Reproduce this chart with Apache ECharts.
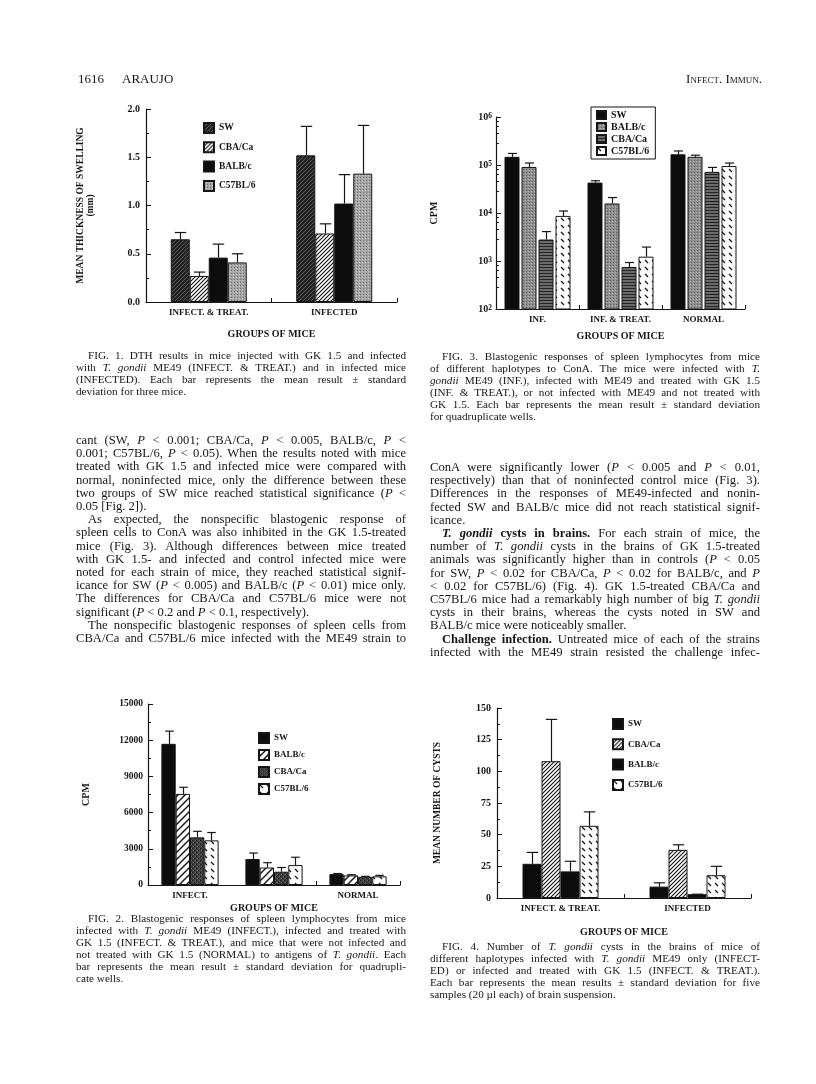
<!DOCTYPE html>
<html>
<head>
<meta charset="utf-8">
<script src="https://cdn.jsdelivr.net/npm/echarts@6/dist/echarts.min.js"></script>
<style>
  html, body { margin: 0; padding: 0; background: #fff; }
  #page { position: relative; width: 816px; height: 1084px; overflow: hidden;
          font-family: 'Liberation Serif', 'Times New Roman', serif; color: #151515; }
  .chart { position: absolute; left: 0; top: 0; width: 816px; height: 1084px; }
  .blk { position: absolute; width: 330px; }
  .blk div { white-space: nowrap; text-align: justify; text-align-last: justify; }
  .blk div.end { text-align-last: left; }
  .blk div.ind { padding-left: 12px; }
  .body { font-size: 12.6px; line-height: 13.2px; }
  .cap { font-size: 11.2px; line-height: 11.9px; }
  .hdr { position: absolute; font-size: 13px; top: 71px; }
</style>
</head>
<body>
<div id="page">
  <div class="chart" id="c1"></div>
  <div class="chart" id="c2"></div>
  <div class="chart" id="c3"></div>
  <div class="chart" id="c4"></div>

  <div class="hdr" style="left:78px">1616</div>
  <div class="hdr" style="left:122px">ARAUJO</div>
  <div class="hdr" style="left:430px;width:332px;text-align:right;font-variant:small-caps">Infect. Immun.</div>

  <div class="blk cap" style="left:76px;top:350px">
    <div class="ind">FIG. 1. DTH results in mice injected with GK 1.5 and infected</div>
    <div>with <i>T. gondii</i> ME49 (INFECT. &amp; TREAT.) and in infected mice</div>
    <div>(INFECTED). Each bar represents the mean result ± standard</div>
    <div class="end">deviation for three mice.</div>
  </div>

  <div class="blk cap" style="left:430px;top:351px">
    <div class="ind">FIG. 3. Blastogenic responses of spleen lymphocytes from mice</div>
    <div>of different haplotypes to ConA. The mice were infected with <i>T.</i></div>
    <div><i>gondii</i> ME49 (INF.), infected with ME49 and treated with GK 1.5</div>
    <div>(INF. &amp; TREAT.), or not infected with ME49 and not treated with</div>
    <div>GK 1.5. Each bar represents the mean result ± standard deviation</div>
    <div class="end">for quadruplicate wells.</div>
  </div>

  <div class="blk body" style="left:76px;top:434px">
    <div>cant (SW, <i>P</i> &lt; 0.001; CBA/Ca, <i>P</i> &lt; 0.005, BALB/c, <i>P</i> &lt;</div>
    <div>0.001; C57BL/6, <i>P</i> &lt; 0.05). When the results noted with mice</div>
    <div>treated with GK 1.5 and infected mice were compared with</div>
    <div>normal, noninfected mice, only the difference between these</div>
    <div>two groups of SW mice reached statistical significance (<i>P</i> &lt;</div>
    <div class="end">0.05 [Fig. 2]).</div>
    <div class="ind">As expected, the nonspecific blastogenic response of</div>
    <div>spleen cells to ConA was also inhibited in the GK 1.5-treated</div>
    <div>mice (Fig. 3). Although differences between mice treated</div>
    <div>with GK 1.5- and infected and control infected mice were</div>
    <div>noted for each strain of mice, they reached statistical signif-</div>
    <div>icance for SW (<i>P</i> &lt; 0.005) and BALB/c (<i>P</i> &lt; 0.01) mice only.</div>
    <div>The differences for CBA/Ca and C57BL/6 mice were not</div>
    <div class="end">significant (<i>P</i> &lt; 0.2 and <i>P</i> &lt; 0.1, respectively).</div>
    <div class="ind">The nonspecific blastogenic responses of spleen cells from</div>
    <div>CBA/Ca and C57BL/6 mice infected with the ME49 strain to</div>
  </div>

  <div class="blk body" style="left:430px;top:461px">
    <div>ConA were significantly lower (<i>P</i> &lt; 0.005 and <i>P</i> &lt; 0.01,</div>
    <div>respectively) than that of noninfected control mice (Fig. 3).</div>
    <div>Differences in the responses of ME49-infected and nonin-</div>
    <div>fected SW and BALB/c mice did not reach statistical signif-</div>
    <div class="end">icance.</div>
    <div class="ind"><b><i>T. gondii</i> cysts in brains.</b> For each strain of mice, the</div>
    <div>number of <i>T. gondii</i> cysts in the brains of GK 1.5-treated</div>
    <div>animals was significantly higher than in controls (<i>P</i> &lt; 0.05</div>
    <div>for SW, <i>P</i> &lt; 0.02 for CBA/Ca, <i>P</i> &lt; 0.02 for BALB/c, and <i>P</i></div>
    <div>&lt; 0.02 for C57BL/6) (Fig. 4). GK 1.5-treated CBA/Ca and</div>
    <div>C57BL/6 mice had a remarkably high number of big <i>T. gondii</i></div>
    <div>cysts in their brains, whereas the cysts noted in SW and</div>
    <div class="end">BALB/c mice were noticeably smaller.</div>
    <div class="ind"><b>Challenge infection.</b> Untreated mice of each of the strains</div>
    <div>infected with the ME49 strain resisted the challenge infec-</div>
  </div>

  <div class="blk cap" style="left:76px;top:913px">
    <div class="ind">FIG. 2. Blastogenic responses of spleen lymphocytes from mice</div>
    <div>infected with <i>T. gondii</i> ME49 (INFECT.), infected and treated with</div>
    <div>GK 1.5 (INFECT. &amp; TREAT.), and mice that were not infected and</div>
    <div>not treated with GK 1.5 (NORMAL) to antigens of <i>T. gondii</i>. Each</div>
    <div>bar represents the mean result ± standard deviation for quadrupli-</div>
    <div class="end">cate wells.</div>
  </div>

  <div class="blk cap" style="left:430px;top:941px">
    <div class="ind">FIG. 4. Number of <i>T. gondii</i> cysts in the brains of mice of</div>
    <div>different haplotypes infected with <i>T. gondii</i> ME49 only (INFECT-</div>
    <div>ED) or infected and treated with GK 1.5 (INFECT. &amp; TREAT.).</div>
    <div>Each bar represents the mean results ± standard deviation for five</div>
    <div class="end">samples (20 µl each) of brain suspension.</div>
  </div>
</div>

<script>
// ---- Fig. 1: DTH, mean thickness of swelling (mm) ----
const fig1Groups = ['INFECT. & TREAT.', 'INFECTED'];
const fig1Strains = ['SW', 'CBA/Ca', 'BALB/c', 'C57BL/6'];
const fig1SW = [0.65, 1.52];
const fig1SWsd = [0.07, 0.30];
const fig1CBA = [0.27, 0.71];
const fig1CBAsd = [0.04, 0.10];
const fig1BALB = [0.46, 1.02];
const fig1BALBsd = [0.14, 0.30];
const fig1C57 = [0.41, 1.33];
const fig1C57sd = [0.09, 0.50];

// ---- Fig. 2: blastogenic response to T. gondii antigens (CPM) ----
const fig2Groups = ['INFECT.', 'INFECT. & TREAT.', 'NORMAL'];
const fig2Strains = ['SW', 'BALB/c', 'CBA/Ca', 'C57BL/6'];
const fig2SW = [11700, 2150, 900];
const fig2SWsd = [1050, 500, 50];
const fig2BALB = [7550, 1450, 800];
const fig2BALBsd = [550, 400, 50];
const fig2CBA = [3950, 1100, 680];
const fig2CBAsd = [500, 350, 40];
const fig2C57 = [3700, 1650, 720];
const fig2C57sd = [650, 650, 80];

// ---- Fig. 3: response to ConA (CPM, log scale) ----
const fig3Groups = ['INF.', 'INF. & TREAT.', 'NORMAL'];
const fig3Strains = ['SW', 'BALB/c', 'CBA/Ca', 'C57BL/6'];
const fig3SW = [148000, 43000, 167000];
const fig3SWsd = [26000, 4000, 29000];
const fig3BALB = [91000, 15800, 148000];
const fig3BALBsd = [19000, 5200, 12000];
const fig3CBA = [2800, 750, 72000];
const fig3CBAsd = [1300, 180, 17000];
const fig3C57 = [8700, 1230, 95000];
const fig3C57sd = [2300, 720, 15000];

// ---- Fig. 4: mean number of cysts ----
const fig4Groups = ['INFECT. & TREAT.', 'INFECTED'];
const fig4Strains = ['SW', 'CBA/Ca', 'BALB/c', 'C57BL/6'];
const fig4SW = [27, 9];
const fig4SWsd = [9, 3];
const fig4CBA = [108, 38];
const fig4CBAsd = [33, 4];
const fig4BALB = [21, 3];
const fig4BALBsd = [8, 0];
const fig4C57 = [57, 18];
const fig4C57sd = [11, 7];

const serif = 'Liberation Serif';
const ink = '#151515';

// small canvas tiles used as bar fills (scanned hatchings)
function tile(size, bg, draw) {
  const c = document.createElement('canvas');
  c.width = size; c.height = size;
  const g = c.getContext('2d');
  g.fillStyle = bg;
  g.fillRect(0, 0, size, size);
  draw(g, size);
  return { image: c, repeat: 'repeat' };
}
function diag(g, s, col, w) {
  g.strokeStyle = col; g.lineWidth = w;
  g.beginPath();
  g.moveTo(0, s); g.lineTo(s, 0);
  g.moveTo(-1, 1); g.lineTo(1, -1);
  g.moveTo(s - 1, s + 1); g.lineTo(s + 1, s - 1);
  g.stroke();
}
const patDarkHatch = tile(4, '#222', (g, s) => diag(g, s, '#5a5a5a', 1));
const patFineHatch = tile(4, '#fff', (g, s) => diag(g, s, '#111', 1.1));
const patWideHatch = tile(7, '#fff', (g, s) => diag(g, s, '#111', 1.4));
const patGrayStipple = tile(3, '#a4a4a4', (g) => {
  g.fillStyle = '#6e6e6e'; g.fillRect(0, 0, 1, 1);
  g.fillStyle = '#cfcfcf'; g.fillRect(2, 1, 1, 1);
});
const patMidGray = tile(3, '#8e8e8e', (g) => {
  g.fillStyle = '#5c5c5c'; g.fillRect(1, 1, 1, 1);
  g.fillStyle = '#b8b8b8'; g.fillRect(0, 2, 1, 1);
});
const patDarkMottle = tile(4, '#3e3e3e', (g) => {
  g.fillStyle = '#1a1a1a'; g.fillRect(0, 0, 1, 1); g.fillRect(2, 2, 1, 1);
  g.fillStyle = '#707070'; g.fillRect(1, 2, 1, 1); g.fillRect(3, 0, 1, 1);
});
const patHLines = tile(3, '#6a6a6a', (g) => {
  g.fillStyle = '#262626'; g.fillRect(0, 0, 3, 1);
});
const patDash = tile(7, '#fff', (g) => {
  g.strokeStyle = '#111'; g.lineWidth = 1.2;
  g.beginPath(); g.moveTo(1, 1); g.lineTo(4, 4); g.stroke();
});

function txt(size, extra) {
  return Object.assign({ fontFamily: serif, fontWeight: 'bold', fontSize: size, color: ink }, extra || {});
}

function bar(name, data, color, bw, gap) {
  return {
    type: 'bar', name: name, data: data, barWidth: bw, barGap: gap,
    itemStyle: { color: color, borderColor: ink, borderWidth: 1 },
    emphasis: { disabled: true }
  };
}

// one-sided (mean + SD) error bar drawn at the centre of bar number idx
function errBar(means, sds, idx, n, bw, gapPx) {
  return {
    type: 'custom', z: 5, silent: true,
    data: means.map((m, i) => [i, m, m + sds[i]]),
    encode: { x: 0, y: [1, 2] },
    renderItem: function (params, api) {
      const off = (idx - (n - 1) / 2) * (bw + gapPx);
      const a = api.coord([api.value(0), api.value(1)]);
      const b = api.coord([api.value(0), api.value(2)]);
      const x = Math.round(a[0] + off) + 0.5;
      const cap = Math.max(3, bw * 0.3);
      const st = { stroke: ink, lineWidth: 1.2 };
      return {
        type: 'group', children: [
          { type: 'line', shape: { x1: x, y1: a[1], x2: x, y2: b[1] }, style: st },
          { type: 'line', shape: { x1: x - cap, y1: b[1], x2: x + cap, y2: b[1] }, style: st }
        ]
      };
    }
  };
}

function catAxis(groups, nameGap, labelSize) {
  return {
    type: 'category', data: groups,
    axisLine: { lineStyle: { color: ink, width: 1.2 } },
    axisTick: { show: true, inside: true, length: 4, lineStyle: { color: ink } },
    axisLabel: txt(labelSize, { margin: 6 }),
    name: 'GROUPS OF MICE', nameLocation: 'middle', nameGap: nameGap,
    nameTextStyle: txt(10)
  };
}

function valAxis(extra) {
  return Object.assign({
    type: 'value',
    axisLine: { show: true, lineStyle: { color: ink, width: 1.2 } },
    axisTick: { show: true, inside: true, length: 5, lineStyle: { color: ink } },
    minorTick: { show: true, splitNumber: 2, length: 3, lineStyle: { color: ink } },
    splitLine: { show: false },
    nameLocation: 'middle', nameRotate: 90
  }, extra);
}

// ---------- Fig. 1 ----------
const chart1 = echarts.init(document.getElementById('c1'));
const bw1 = 19;
chart1.setOption({
  animation: false,
  grid: { left: 146, top: 109, width: 251, height: 193 },
  legend: {
    data: fig1Strains, orient: 'vertical', left: 198, top: 117, icon: 'rect',
    itemWidth: 10, itemHeight: 10, itemGap: 7.3, textStyle: txt(9.5)
  },
  xAxis: catAxis(fig1Groups, 27, 9),
  yAxis: valAxis({
    min: 0, max: 2, interval: 0.5,
    axisLabel: txt(10, { margin: 6, formatter: v => v.toFixed(1) }),
    name: 'MEAN THICKNESS OF SWELLING\n(mm)', nameGap: 50,
    nameTextStyle: txt(9.5, { lineHeight: 10 })
  }),
  series: [
    bar('SW', fig1SW, patDarkHatch, bw1, '0%'),
    bar('CBA/Ca', fig1CBA, patFineHatch, bw1, '0%'),
    bar('BALB/c', fig1BALB, '#0c0c0c', bw1, '0%'),
    bar('C57BL/6', fig1C57, patGrayStipple, bw1, '0%'),
    errBar(fig1SW, fig1SWsd, 0, 4, bw1, 0),
    errBar(fig1CBA, fig1CBAsd, 1, 4, bw1, 0),
    errBar(fig1BALB, fig1BALBsd, 2, 4, bw1, 0),
    errBar(fig1C57, fig1C57sd, 3, 4, bw1, 0)
  ]
});

// ---------- Fig. 2 ----------
const chart2 = echarts.init(document.getElementById('c2'));
const bw2 = 14.3;
chart2.setOption({
  animation: false,
  grid: { left: 148, top: 704, width: 252, height: 181 },
  legend: {
    data: fig2Strains, orient: 'vertical', left: 253, top: 727, icon: 'rect',
    itemWidth: 10, itemHeight: 10, itemGap: 5, textStyle: txt(9)
  },
  xAxis: catAxis(fig2Groups, 18, 9),
  yAxis: valAxis({
    min: 0, max: 15000, interval: 3000,
    axisLabel: txt(9.5, { margin: 5, formatter: v => String(v) }),
    name: 'CPM', nameGap: 57, nameTextStyle: txt(10)
  }),
  series: [
    bar('SW', fig2SW, '#0c0c0c', bw2, '0%'),
    bar('BALB/c', fig2BALB, patWideHatch, bw2, '0%'),
    bar('CBA/Ca', fig2CBA, patDarkMottle, bw2, '0%'),
    bar('C57BL/6', fig2C57, patDash, bw2, '0%'),
    errBar(fig2SW, fig2SWsd, 0, 4, bw2, 0),
    errBar(fig2BALB, fig2BALBsd, 1, 4, bw2, 0),
    errBar(fig2CBA, fig2CBAsd, 2, 4, bw2, 0),
    errBar(fig2C57, fig2C57sd, 3, 4, bw2, 0)
  ]
});

// ---------- Fig. 3 ----------
const chart3 = echarts.init(document.getElementById('c3'));
const bw3 = 15;
const gap3 = 2;
chart3.setOption({
  animation: false,
  grid: { left: 496, top: 117, width: 249, height: 192 },
  legend: {
    data: fig3Strains, orient: 'vertical', left: 591, top: 107, icon: 'rect',
    itemWidth: 9, itemHeight: 8, itemGap: 2,
    borderColor: ink, borderWidth: 1, padding: [3, 6, 3, 5],
    textStyle: txt(10, { lineHeight: 9 })
  },
  xAxis: catAxis(fig3Groups, 22, 9),
  yAxis: valAxis({
    type: 'log', logBase: 10, min: 100, max: 1000000,
    minorTick: { show: true, splitNumber: 5, length: 3, lineStyle: { color: ink } },
    axisLabel: {
      margin: 4,
      formatter: v => '{b|10}{e|' + Math.round(Math.log10(v)) + '}',
      rich: {
        b: txt(10, { verticalAlign: 'bottom' }),
        e: txt(7.5, { verticalAlign: 'top' })
      }
    },
    name: 'CPM', nameGap: 57, nameTextStyle: txt(10)
  }),
  series: [
    bar('SW', fig3SW, '#0c0c0c', bw3, (gap3 / bw3 * 100) + '%'),
    bar('BALB/c', fig3BALB, patMidGray, bw3, (gap3 / bw3 * 100) + '%'),
    bar('CBA/Ca', fig3CBA, patHLines, bw3, (gap3 / bw3 * 100) + '%'),
    bar('C57BL/6', fig3C57, patDash, bw3, (gap3 / bw3 * 100) + '%'),
    errBar(fig3SW, fig3SWsd, 0, 4, bw3, gap3),
    errBar(fig3BALB, fig3BALBsd, 1, 4, bw3, gap3),
    errBar(fig3CBA, fig3CBAsd, 2, 4, bw3, gap3),
    errBar(fig3C57, fig3C57sd, 3, 4, bw3, gap3)
  ]
});

// ---------- Fig. 4 ----------
const chart4 = echarts.init(document.getElementById('c4'));
const bw4 = 19;
chart4.setOption({
  animation: false,
  grid: { left: 497, top: 708, width: 254, height: 190 },
  legend: {
    data: fig4Strains, orient: 'vertical', left: 607, top: 713, icon: 'rect',
    itemWidth: 10, itemHeight: 10, itemGap: 8.3, textStyle: txt(9)
  },
  xAxis: catAxis(fig4Groups, 29, 9),
  yAxis: valAxis({
    min: 0, max: 150, interval: 25,
    axisLabel: txt(10, { margin: 6 }),
    name: 'MEAN NUMBER OF CYSTS', nameGap: 54, nameTextStyle: txt(9.5)
  }),
  series: [
    bar('SW', fig4SW, '#0c0c0c', bw4, '0%'),
    bar('CBA/Ca', fig4CBA, patFineHatch, bw4, '0%'),
    bar('BALB/c', fig4BALB, '#0c0c0c', bw4, '0%'),
    bar('C57BL/6', fig4C57, patDash, bw4, '0%'),
    errBar(fig4SW, fig4SWsd, 0, 4, bw4, 0),
    errBar(fig4CBA, fig4CBAsd, 1, 4, bw4, 0),
    errBar(fig4BALB, fig4BALBsd, 2, 4, bw4, 0),
    errBar(fig4C57, fig4C57sd, 3, 4, bw4, 0)
  ]
});
</script>
</body>
</html>
